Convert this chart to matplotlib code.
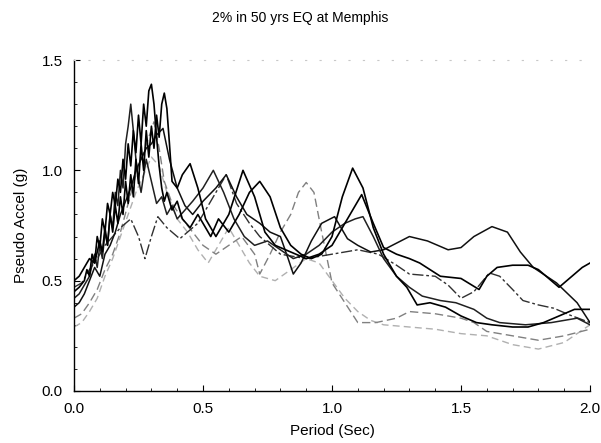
import matplotlib
matplotlib.use("Agg")
import matplotlib.pyplot as plt
from matplotlib.ticker import MultipleLocator, FormatStrFormatter

plt.rcParams["font.family"] = ["Liberation Sans", "DejaVu Sans"]

TITLE = "2% in 50 yrs EQ at Memphis"
XLABEL = "Period (Sec)"
YLABEL = "Pseudo Accel (g)"

# spectra (period in s, pseudo acceleration in g)
r1_x = [0, .02, .04, .05, .06, .07, .08, .09, .10, .11, .12, .13, .14, .15, .16, .17, .18, .19, .20,
        .21, .22, .23, .24, .25, .26, .27, .28, .29, .30, .31, .32, .33, .34, .35, .36, .38, .40, .42,
        .45, .48, .50, .53, .56, .60, .64, .68, .72, .76, .80, .84, .88, .92, .96, 1.0, 1.04, 1.08,
        1.12, 1.16, 1.20, 1.25, 1.29, 1.33, 1.38, 1.44, 1.50, 1.56, 1.62, 1.70, 1.76, 1.82, 1.88, 1.94, 2.0]
r1_y = [.45, .47, .50, .55, .52, .62, .58, .70, .65, .78, .72, .85, .80, .90, .84, .96, .90, 1.05, .96,
        1.12, 1.02, 1.18, 1.08, 1.25, 1.12, 1.30, 1.20, 1.36, 1.39, 1.30, 1.15, 1.02, .92, .86, .90, .82,
        .86, .78, .74, .80, .76, .70, .78, .72, .80, .90, .95, .88, .74, .66, .62, .60, .62, .70, .88, 1.01,
        .92, .74, .62, .52, .47, .39, .40, .38, .34, .31, .30, .29, .29, .31, .34, .37, .37]

r2_x = [0, .02, .04, .06, .08, .10, .11, .12, .13, .14, .15, .16, .17, .18, .19, .20, .21, .22, .23, .24,
        .25, .26, .27, .28, .29, .30, .31, .32, .33, .34, .35, .36, .37, .38, .40, .42, .45, .48, .51, .55,
        .60, .655, .70, .74, .78, .82, .86, .90, .95, 1.0, 1.05, 1.10, 1.115, 1.16, 1.20, 1.25, 1.30, 1.34,
        1.42, 1.50, 1.57, 1.60, 1.64, 1.70, 1.76, 1.80, 1.85, 1.88, 1.93, 1.97, 2.0]
r2_y = [.50, .52, .56, .60, .58, .68, .63, .74, .66, .80, .72, .84, .76, .88, .80, .95, .85, .98, .88, 1.05,
        .94, 1.12, 1.00, 1.18, 1.06, 1.20, 1.10, 1.25, 1.15, 1.30, 1.35, 1.28, 1.12, .95, .92, .98, 1.03,
        .92, .78, .70, .80, 1.00, .88, .72, .66, .64, .62, .60, .62, .66, .76, .86, .89, .76, .65, .62, .60,
        .58, .52, .51, .46, .52, .56, .57, .57, .55, .50, .47, .52, .56, .58]

r3_x = [0, .02, .04, .06, .08, .09, .10, .11, .12, .13, .14, .15, .16, .17, .18, .19, .20, .21, .22, .23,
        .24, .25, .26, .27, .28, .30, .32, .34, .36, .38, .40, .43, .46, .50, .54, .58, .62, .66, .70, .75,
        .80, .85, .90, .95, 1.0, 1.05, 1.09, 1.12, 1.16, 1.20, 1.25, 1.30, 1.35, 1.42, 1.48, 1.55, 1.60,
        1.65, 1.75, 1.85, 1.95, 2.0]
r3_y = [.42, .44, .48, .52, .62, .56, .66, .60, .72, .66, .80, .74, .90, .84, 1.00, .92, 1.12, 1.20, 1.30,
        1.18, 1.05, .96, .90, .98, 1.05, .95, .85, .88, .80, .84, .78, .82, .86, .92, 1.00, .90, .78, .70,
        .66, .68, .64, .60, .62, .66, .72, .76, .78, .79, .70, .60, .52, .47, .43, .41, .40, .37, .33, .31,
        .30, .31, .33, .30]

r4_x = [0, .02, .04, .06, .08, .10, .12, .14, .16, .18, .20, .22, .24, .26, .28, .30, .32, .345, .37, .40,
        .43, .46, .50, .55, .59, .63, .67, .72, .76, .80, .83, .85, .88, .92, .96, 1.01, 1.06, 1.10, 1.15,
        1.20, 1.25, 1.30, 1.37, 1.45, 1.50, 1.55, 1.62, 1.68, 1.73, 1.78, 1.87, 1.95, 2.0]
r4_y = [.38, .40, .44, .50, .56, .52, .62, .66, .72, .80, .86, .92, 1.00, 1.05, 1.10, 1.12, 1.16, 1.19,
        1.05, .92, .84, .80, .86, .92, .98, .88, .80, .76, .72, .70, .60, .53, .58, .68, .76, .79, .69, .66,
        .63, .64, .67, .70, .68, .64, .65, .70, .745, .72, .63, .56, .49, .40, .31]

r5_x = [0, .03, .06, .09, .12, .15, .18, .22, .25, .275, .30, .325, .36, .41, .48, .54, .59, .63, .68, .72,
        .80, .90, 1.0, 1.1, 1.18, 1.25, 1.30, 1.40, 1.45, 1.50, 1.55, 1.61, 1.65, 1.70, 1.74, 1.80, 1.86,
        1.92, 2.0]
r5_y = [.47, .49, .55, .60, .66, .70, .74, .78, .70, .60, .70, .79, .74, .69, .76, .88, .98, .85, .76, .70,
        .62, .60, .62, .64, .62, .57, .53, .52, .48, .42, .45, .535, .52, .46, .41, .39, .375, .345, .31]

g1_x = [0, .03, .06, .09, .12, .15, .18, .21, .24, .27, .29, .31, .33, .35, .38, .42, .46, .50, .55, .60,
        .65, .70, .72, .76, .80, .84, .87, .90, .93, .96, 1.0, 1.05, 1.10, 1.17, 1.25, 1.30, 1.40, 1.50,
        1.55, 1.60, 1.70, 1.80, 1.90, 2.0]
g1_y = [.33, .35, .40, .46, .55, .62, .72, .85, .98, 1.08, 1.15, 1.22, 1.10, .95, .85, .78, .72, .66, .62,
        .66, .70, .62, .53, .62, .72, .80, .90, .945, .90, .72, .49, .40, .31, .31, .33, .36, .35, .33, .31,
        .27, .25, .23, .25, .28]

g2_x = [0, .03, .06, .09, .12, .15, .18, .21, .24, .27, .30, .33, .36, .40, .44, .48, .52, .56, .60, .64,
        .68, .72, .78, .84, .90, .95, 1.0, 1.05, 1.1, 1.15, 1.2, 1.3, 1.4, 1.5, 1.6, 1.7, 1.8, 1.9, 2.0]
g2_y = [.29, .31, .36, .42, .52, .60, .70, .80, .90, .98, 1.06, 1.02, .90, .78, .72, .64, .58, .66, .74,
        .66, .58, .52, .50, .55, .60, .58, .50, .42, .36, .32, .30, .29, .28, .26, .25, .21, .19, .22, .30]

fig = plt.figure(figsize=(6.01, 4.43), dpi=100)
ax = fig.add_axes([74 / 601, 1 - 391 / 443, 516 / 601, 331 / 443])

ax.plot(g2_x, g2_y, color="#b0b0b0", lw=1.0, ls=(0, (5, 3)))
ax.plot(g1_x, g1_y, color="#808080", lw=1.0, ls=(0, (6, 3)))
ax.plot(r5_x, r5_y, color="#303030", lw=1.0, ls=(0, (8, 2, 2, 2)))
ax.plot(r4_x, r4_y, color="#101010", lw=1.1)
ax.plot(r3_x, r3_y, color="#202020", lw=1.1)
ax.plot(r2_x, r2_y, color="black", lw=1.2)
ax.plot(r1_x, r1_y, color="black", lw=1.2)

ax.set_xlim(0, 2.0)
ax.set_ylim(0, 1.5)
ax.xaxis.set_major_locator(MultipleLocator(0.5))
ax.xaxis.set_minor_locator(MultipleLocator(0.1))
ax.yaxis.set_major_locator(MultipleLocator(0.5))
ax.yaxis.set_minor_locator(MultipleLocator(0.1))
ax.xaxis.set_major_formatter(FormatStrFormatter("%.1f"))
ax.yaxis.set_major_formatter(FormatStrFormatter("%.1f"))
ax.tick_params(which="both", direction="in", labelsize=11, color="black")
ax.tick_params(which="major", length=4, pad=8)
ax.tick_params(which="minor", length=2.5)

ax.spines["right"].set_visible(False)
ax.spines["top"].set_color("#c8c8c8")
ax.spines["top"].set_linestyle((0, (1, 12)))
ax.spines["left"].set_linewidth(1.0)
ax.spines["bottom"].set_linewidth(1.0)

ax.set_xlabel(XLABEL, fontsize=11, labelpad=6)
ax.set_ylabel(YLABEL, fontsize=11, labelpad=10)
fig.text(0.5, 1 - 18 / 443, TITLE, ha="center", va="center", fontsize=10)

fig.savefig("out.png", dpi=100)
